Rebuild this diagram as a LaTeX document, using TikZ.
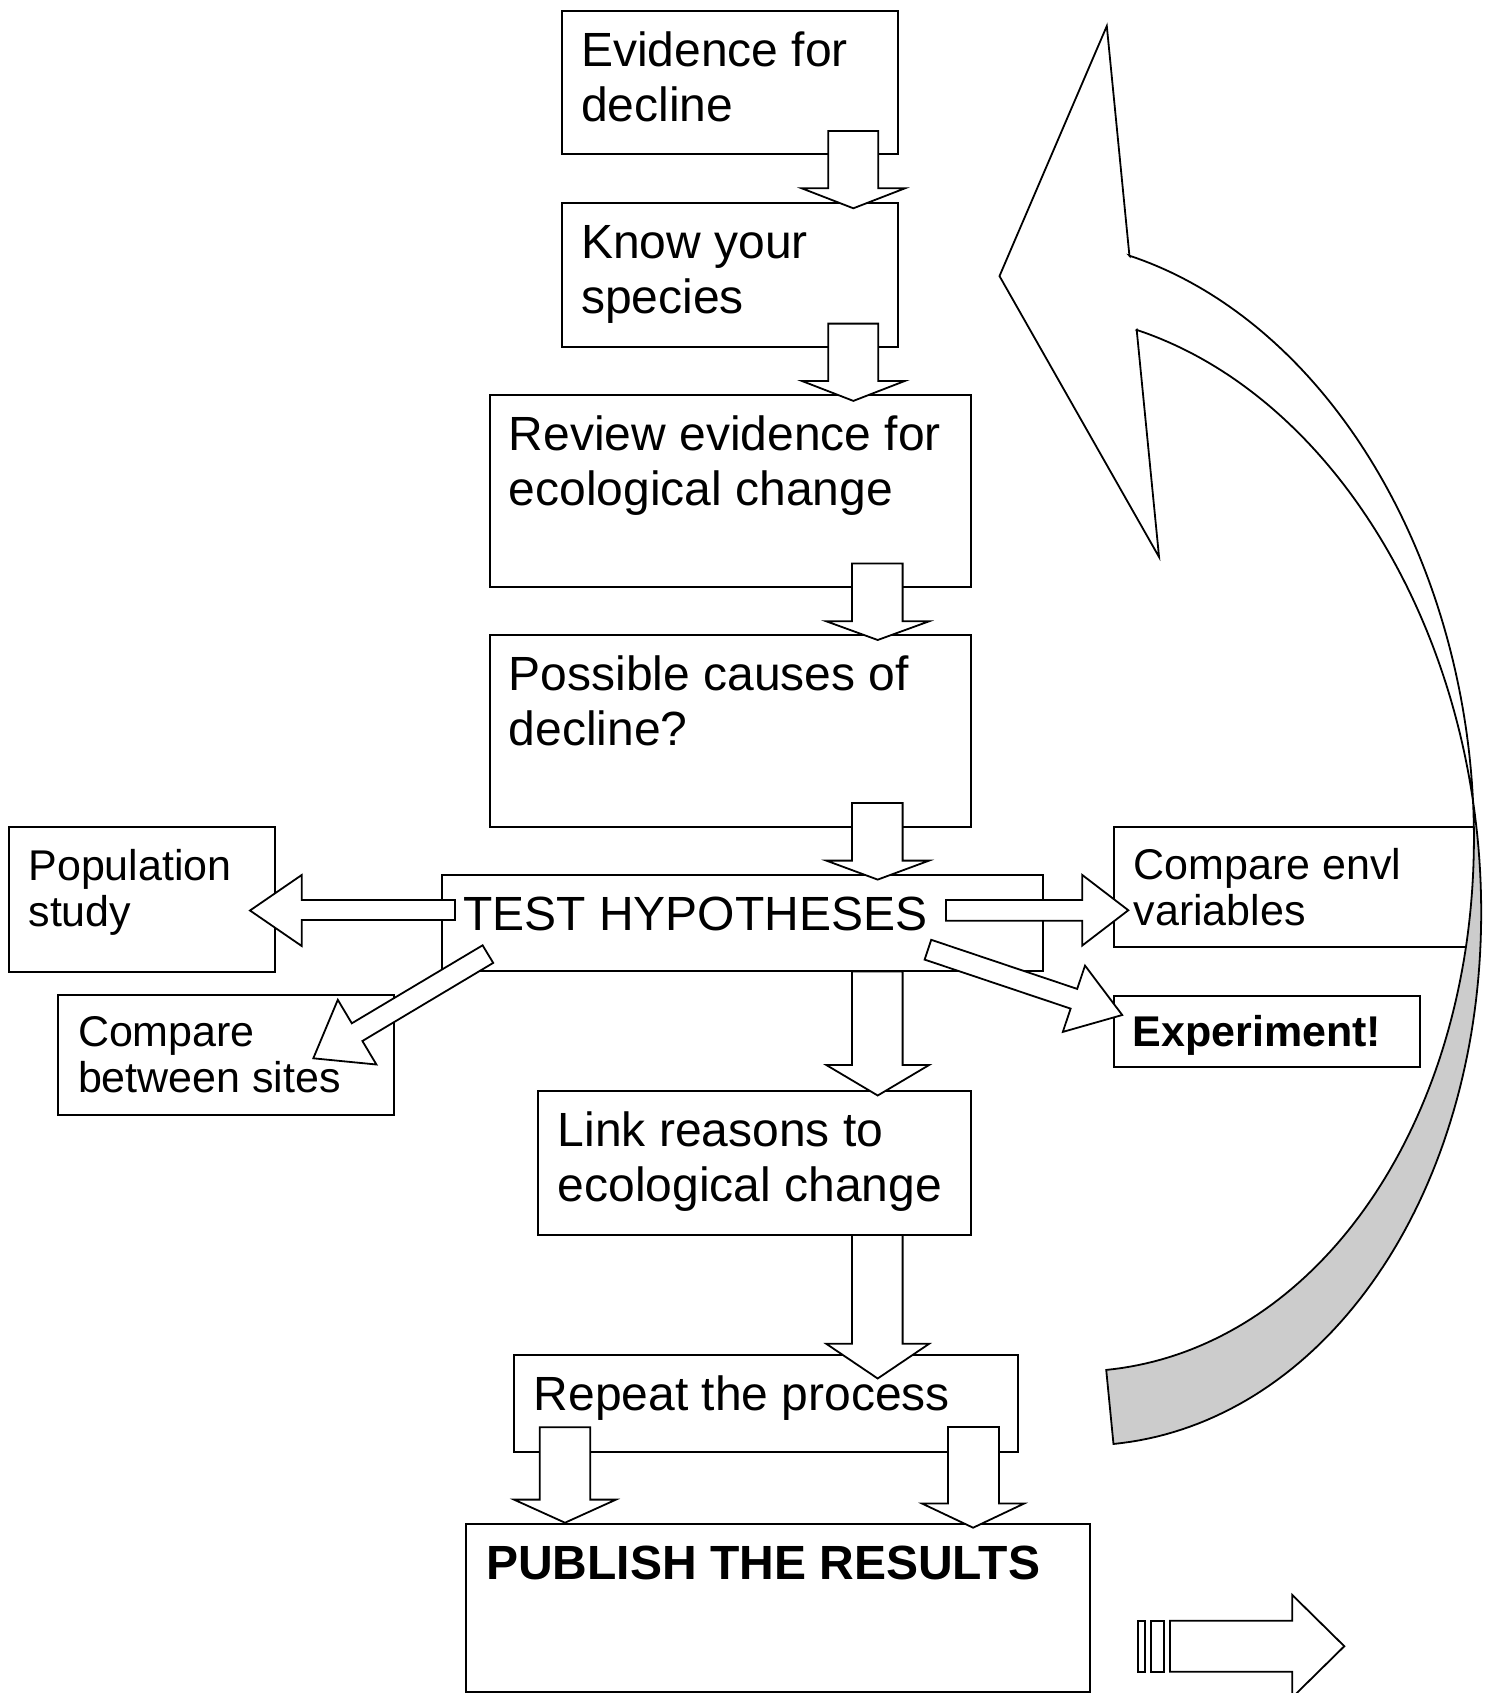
\documentclass[tikz,border=0pt]{standalone}
\usepackage{fontspec}
\setmainfont{Liberation Sans}
\definecolor{shade}{RGB}{204,204,204}
\tikzset{
  box/.style={draw, line width=2pt, fill=white, rectangle, inner sep=0pt, outer sep=0pt, anchor=north west},
  blk/.style={draw, line width=1.8pt, fill=white, line join=miter},
  curv/.style={draw, line width=1.8pt, line join=miter},
  bigtxt/.style={font=\fontsize{48}{54.5}\selectfont, anchor=base west, inner sep=0pt, align=left},
  smalltxt/.style={font=\fontsize{43}{46}\selectfont, anchor=base west, inner sep=0pt, align=left},
}
\newcommand\vblk[7]{\draw[blk] (#1,#3) -- (#1,#4) -- (#5,#4) -- ({(#5+#6)/2},#7) -- (#6,#4) -- (#2,#4) -- (#2,#3) -- cycle;}
\newcommand\hblk[7]{\draw[blk] (#1,#3) -- (#2,#3) -- (#2,#5) -- (#7,{(#5+#6)/2}) -- (#2,#6) -- (#2,#4) -- (#1,#4) -- cycle;}
\begin{document}
\begin{tikzpicture}[x=1pt,y=-1pt]
\useasboundingbox (0,0) rectangle (1491,1693);
% boxes
\node[box, minimum width=336pt, minimum height=143pt] (b1) at (562,11) {};
\node[box, minimum width=336pt, minimum height=144pt] (b2) at (562,203) {};
\node[box, minimum width=480.5pt, minimum height=192pt] (b3) at (490,395) {};
\node[box, minimum width=480.5pt, minimum height=192pt] (b4) at (490,635) {};
\node[box, minimum width=601pt, minimum height=96pt] (b5) at (442,875) {};
\node[box, minimum width=265.7pt, minimum height=144.4pt] (b6) at (9.3,827.3) {};
\node[box, minimum width=362pt, minimum height=120pt] (b7) at (1114,827) {};
\node[box, minimum width=306pt, minimum height=71.5pt] (b8) at (1114,995.5) {};
\node[box, minimum width=336pt, minimum height=120pt] (b9) at (58.3,995) {};
\node[box, minimum width=432.5pt, minimum height=144pt] (b10) at (538,1091) {};
\node[box, minimum width=504.3pt, minimum height=96.9pt] (b11) at (513.7,1354.6) {};
\node[box, minimum width=624pt, minimum height=168.5pt] (b12) at (466,1523.5) {};
% texts (base anchor = baseline of the last line)
\node[bigtxt] (t1) at (581,121.2) {Evidence for\\decline};
\node[bigtxt] (t2) at (581,313.2) {Know your\\species};
\node[bigtxt] (t3) at (508.5,505.2) {Review evidence for\\ecological change};
\node[bigtxt] (t4) at (508.5,745.4) {Possible causes of\\decline?};
\node[bigtxt] (t5) at (463,930.2) {TEST HYPOTHESES};
\node[smalltxt] (t6) at (28.3,926) {Population\\study};
\node[smalltxt] (t7) at (1133.5,925) {Compare envl\\variables};
\node[smalltxt, font=\fontsize{43}{46}\selectfont\bfseries] (t8) at (1132.5,1046) {Experiment!};
\node[smalltxt] (t9) at (77.8,1092) {Compare\\between sites};
\node[bigtxt] (t10) at (557.5,1201.4) {Link reasons to\\ecological change};
\node[bigtxt] (t11) at (533.5,1410) {Repeat the process};
\node[bigtxt, font=\fontsize{48}{54.5}\selectfont\bfseries] (t12) at (486,1579.2) {PUBLISH THE RESULTS};
% vertical block arrows
\vblk{828.3}{878.3}{131}{188.3}{801.7}{905}{208.3}
\vblk{828.3}{878.3}{323.6}{380.9}{801.7}{905}{400.9}
\vblk{852}{902.6}{563.4}{621.3}{826.3}{929.1}{640}
\vblk{852}{902.6}{803}{860.6}{826.3}{929.1}{879.6}
\vblk{852}{902.6}{971.5}{1065}{826.3}{929.1}{1095.5}
\vblk{852}{902.6}{1235}{1343.8}{826.3}{929.1}{1378.5}
\vblk{539.7}{590.3}{1427.3}{1499.6}{514}{616}{1522.7}
\vblk{948}{999}{1427}{1503.5}{922}{1024.2}{1527.7}
% horizontal block arrows
\hblk{455}{301.7}{900}{920}{875}{946}{250}
\hblk{946}{1082.3}{900}{920.7}{875}{945.5}{1128.3}
% diagonal block arrows
\draw[blk] (482.6,945.3) -- (351.8,1023.3) -- (337.8,999.8) -- (313.3,1058.3) -- (376.4,1064.5) -- (362.4,1041.0) -- (493.2,962.9) -- cycle;
\draw[blk] (931.2,939.8) -- (1077.2,988.9) -- (1085.0,965.6) -- (1122.2,1015.0) -- (1062.8,1031.9) -- (1070.6,1008.6) -- (924.6,959.6) -- cycle;
% striped arrow
\draw[blk] (1138.3,1620.7) rectangle (1145,1671.7);
\draw[blk] (1151,1620.7) rectangle (1164.3,1671.7);
\hblk{1170}{1292.3}{1620.7}{1671.7}{1595}{1697.4}{1344.3}
% curved arrow
\begin{scope}[rotate around={5.6:(1110,850)}]
\draw[curv, fill=white] (1187.3,260.4) -- (1187.2,29.6) -- (1056,268) -- (1187.4,563.2) -- (1187.3,334.96)
  -- plot[domain=-71.78:-3.76, samples=80] ({1055.5+421.5*cos(\x)},{874+567.5*sin(\x)})
  -- plot[domain=3.76:-71.78, samples=80] ({1055.5+421.5*cos(\x)},{799.5+567.6*sin(\x)}) -- cycle;
\draw[curv, fill=shade] plot[domain=-3.76:90, samples=80] ({1055.5+421.5*cos(\x)},{874+567.5*sin(\x)})
  -- plot[domain=90:3.76, samples=80] ({1055.5+421.5*cos(\x)},{799.5+567.6*sin(\x)}) -- cycle;
\end{scope}
\end{tikzpicture}
\end{document}
